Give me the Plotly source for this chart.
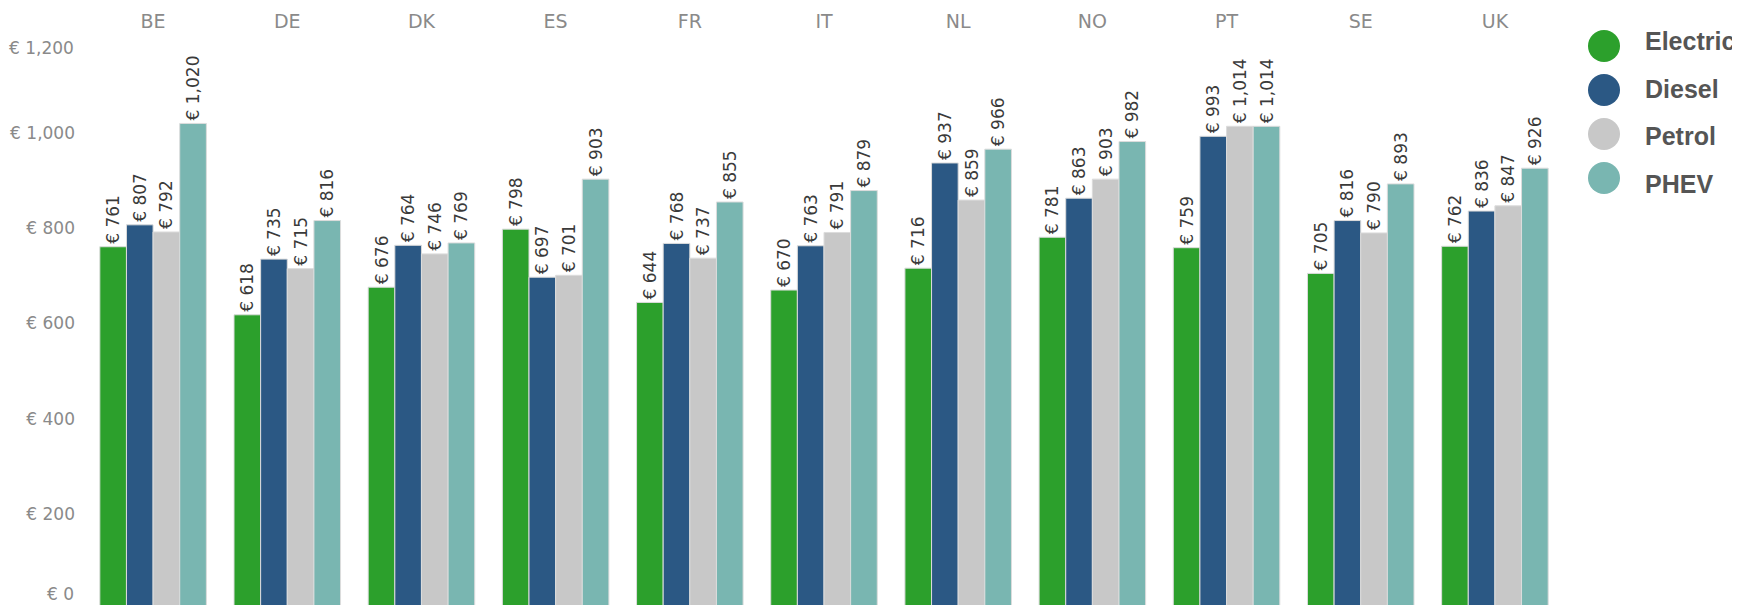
import plotly.graph_objects as go

# data
countries = ['BE', 'DE', 'DK', 'ES', 'FR', 'IT', 'NL', 'NO', 'PT', 'SE', 'UK']
electric = [761, 618, 676, 798, 644, 670, 716, 781, 759, 705, 762]
diesel = [807, 735, 764, 697, 768, 763, 937, 863, 993, 816, 836]
petrol = [792, 715, 746, 701, 737, 791, 859, 903, 1014, 790, 847]
phev = [1020, 816, 769, 903, 855, 879, 966, 982, 1014, 893, 926]

fuel_names = ['Electric', 'Diesel', 'Petrol', 'PHEV']
fuel_colors = ['#2ca02c', '#2b5884', '#c8c8c8', '#79b6b1']
series = [electric, diesel, petrol, phev]

y_ticks = [200, 400, 600, 800, 1000]

# page body has an 8px margin, so everything is laid out 8px up/left
W, H = 1740, 605
ML, MR, MT, MB = 78, 186, 25, 8
font_fam = "DejaVu Sans, sans-serif"

fig = go.Figure()
for name, vals, col in zip(fuel_names, series, fuel_colors):
    fig.add_trace(go.Bar(
        x=countries, y=vals, name=name,
        marker=dict(color=col, line=dict(color='#dcdcdc', width=1)),
        text=[f"€ {v:,}" for v in vals],
        textposition='outside', textangle=-90, constraintext='none',
        cliponaxis=False,
        textfont=dict(family=font_fam, size=17, color='#3a3a3a'),
        showlegend=False,
    ))

fig.update_layout(
    width=W, height=H,
    margin=dict(l=ML, r=MR, t=MT, b=MB, autoexpand=False),
    barmode='group', bargap=0.206, bargroupgap=0,
    plot_bgcolor='white', paper_bgcolor='white',
    showlegend=False,
    font=dict(family=font_fam),
)
fig.update_xaxes(side='top', showgrid=False, showline=False, ticks='', automargin=False,
                 tickfont=dict(size=19, color='#8a8a8a'))
fig.update_yaxes(range=[8.4, 1210], showgrid=False, zeroline=False, showline=False,
                 automargin=False,
                 tickvals=y_ticks, ticktext=[f"€ {v:,}" for v in y_ticks],
                 ticklabelstandoff=10,
                 tickfont=dict(size=17, color='#8a8a8a'))

# end tick labels pulled inside the pane like the source
fig.add_annotation(x=0, xref='paper', y=0, yref='paper', text="€ 0",
                   showarrow=False, xanchor='right', yanchor='middle', xshift=-10, yshift=11,
                   font=dict(size=17, color='#8a8a8a', family=font_fam))
fig.add_annotation(x=0, xref='paper', y=1200, yref='y', text="€ 1,200",
                   showarrow=False, xanchor='right', yanchor='middle', xshift=-10, yshift=-10,
                   font=dict(size=17, color='#8a8a8a', family=font_fam))

# legend drawn by hand: big circles
pw = W - ML - MR
ph = H - MT - MB
for i, (name, col) in enumerate(zip(fuel_names, fuel_colors)):
    cy = 38 + 44 * i
    ty = 33 + 47.7 * i
    fig.add_shape(type='circle', xref='paper', yref='paper',
                  xsizemode='pixel', ysizemode='pixel',
                  xanchor=(1596 - ML) / pw, yanchor=(H - MB - cy) / ph,
                  x0=-16, x1=16, y0=-16, y1=16,
                  fillcolor=col, line=dict(width=0))
    fig.add_annotation(x=(1635 - ML) / pw, xref='paper', y=(H - MB - ty) / ph, yref='paper',
                       text=name, showarrow=False, xanchor='left', yanchor='middle',
                       font=dict(family='Liberation Sans, Arial', size=25, color='#555555',
                                 weight='bold'))

fig.write_html("out.html")
